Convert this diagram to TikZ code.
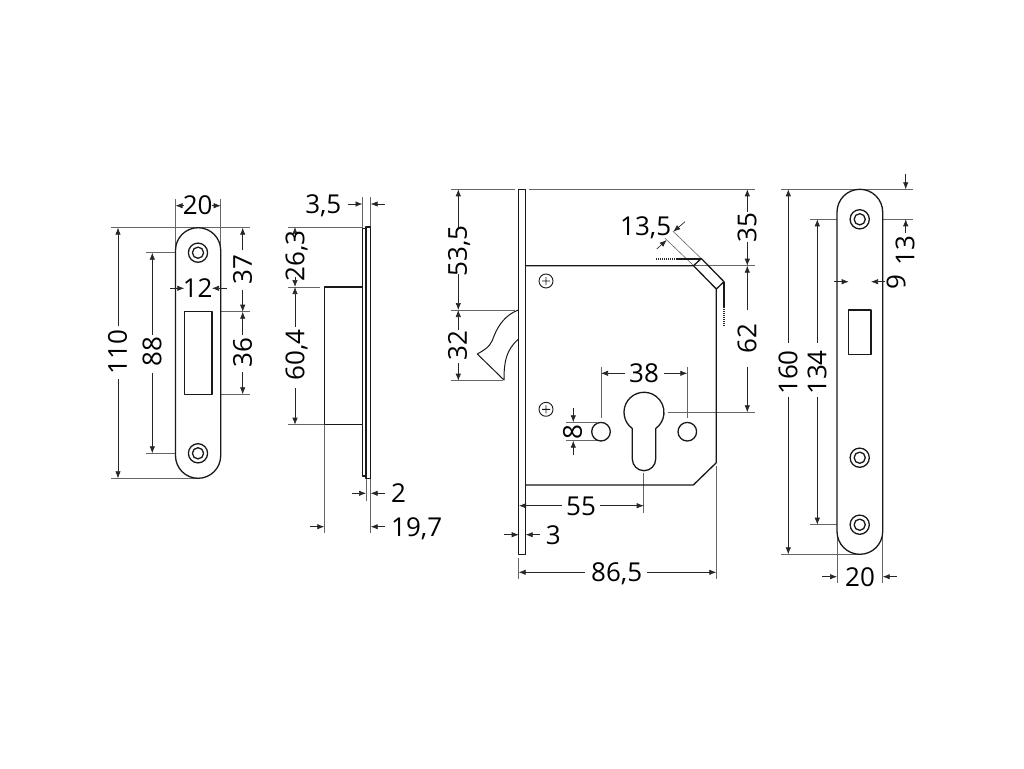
\documentclass[tikz,border=0pt]{standalone}
\usepackage{fontspec}
\setmainfont{Open Sans}
\usetikzlibrary{arrows.meta}
\tikzset{
  part/.style={draw=black!90,line width=1.3pt,line join=round},
  dimline/.style={draw=black!85,line width=0.65pt,-{Latex[length=7pt,width=5.4pt]}},
  extline/.style={draw=black!60,line width=0.7pt},
  label/.style={font=\fontsize{26}{26}\selectfont,inner sep=0pt,text=black,text height=18.6pt,text depth=0pt},
  vlabel/.style={label,rotate=90},
  dotline/.style={draw=black!85,line width=1.2pt,dash pattern=on 1pt off 1pt},
}
\begin{document}
\begin{tikzpicture}[x=1pt,y=-1pt]
\useasboundingbox[fill=white] (0,0) rectangle (1024,768);

% ---- left strike plate
\draw[extline] (175.5,199) -- (175.5,250);
\draw[extline] (220.7,199) -- (220.7,250);
\draw[extline] (111,227.7) -- (250,227.7);
\draw[extline] (111,478.3) -- (198,478.3);
\draw[extline] (146,252.7) -- (186,252.7);
\draw[extline] (146,453.3) -- (186,453.3);
\draw[extline] (184.3,280) -- (184.3,308);
\draw[extline] (212,280) -- (212,308);
\draw[extline] (216,311.7) -- (250,311.7);
\draw[extline] (216,394.3) -- (250,394.3);
\draw[part,fill=white] (198.1,227.7) arc[start angle=-90,end angle=0,radius=22.6] -- (220.7,455.7) arc[start angle=0,end angle=180,radius=22.6] -- (175.5,250.3) arc[start angle=180,end angle=270,radius=22.6] -- cycle;
\draw[part] (198,252.7) circle[radius=9.6] (198,252.7) circle[radius=5.6];
\draw[part] (198,453.3) circle[radius=9.6] (198,453.3) circle[radius=5.6];
\draw[part] (184.3,311.7) rectangle (212,394.3);
\draw[dimline] (184,205.7) -- (175.5,205.7);
\draw[dimline] (212,205.7) -- (220.7,205.7);
\node[label] (t20a) at (197.7,205.5) {20};
\draw[dimline] (118,325.7) -- (118,227.7);
\draw[dimline] (118,379) -- (118,478.3);
\node[vlabel] (t110) at (117.5,352) {110};
\draw[dimline] (152.3,335) -- (152.3,252.7);
\draw[dimline] (152.3,373) -- (152.3,453.3);
\node[vlabel] (t88) at (152,352) {88};
\draw[dimline] (170,288.3) -- (184.3,288.3);
\draw[dimline] (226.7,288.3) -- (212,288.3);
\node[label] (t12) at (197.7,288.3) {12};
\draw[dimline] (242.7,250) -- (242.7,227.7);
\draw[dimline] (242.7,290) -- (242.7,311.7);
\node[vlabel] (t37) at (242.5,270) {37};
\draw[dimline] (242.7,335) -- (242.7,311.7);
\draw[dimline] (242.7,372) -- (242.7,394.3);
\node[vlabel] (t36) at (242.5,353) {36};

% ---- side view
\draw[extline] (362.5,197) -- (362.5,227);
\draw[extline] (370.7,197) -- (370.7,227);
\draw[extline] (288,227) -- (362.5,227);
\draw[extline] (288,287) -- (320,287);
\draw[extline] (288,424.7) -- (324,424.7);
\draw[extline] (366,478) -- (366,500.7);
\draw[extline] (370.7,478) -- (370.7,533);
\draw[extline] (324.3,425) -- (324.3,533);
\draw[part] (362.7,228.3) rectangle (366,476);
\draw[part] (366,227) rectangle (370.7,478.3);
\draw[part] (362.7,287) -- (324.3,287) -- (324.3,424.7) -- (362.7,424.7);
\draw[dimline] (347.7,204) -- (362.5,204);
\draw[dimline] (384.7,204) -- (370.7,204);
\node[label] (t35b) at (323.3,204.5) {3,5};
\draw[dimline] (295,237) -- (295,227);
\draw[dimline] (295,277) -- (295,287);
\node[vlabel] (t263) at (295,256) {26,3};
\draw[dimline] (295,326.7) -- (295,287);
\draw[dimline] (295,388) -- (295,424.7);
\node[vlabel] (t604) at (295,355) {60,4};
\draw[dimline] (351.7,493.3) -- (366,493.3);
\draw[dimline] (385,493.3) -- (370.7,493.3);
\node[label] (t2) at (398.5,493.3) {2};
\draw[dimline] (310,526.7) -- (324.3,526.7);
\draw[dimline] (385,526.7) -- (370.7,526.7);
\node[label] (t197) at (416.7,527) {19,7};

% ---- lock body
\draw[extline] (451,189.3) -- (515,189.3);
\draw[extline] (529.3,189.3) -- (755,189.3);
\draw[extline] (693,265.7) -- (755,265.7);
\draw[extline] (451,310) -- (515,310);
\draw[extline] (451,380.7) -- (503,380.7);
\draw[extline] (601,366.7) -- (601,417.7);
\draw[extline] (687.3,366.7) -- (687.3,418);
\draw[extline] (668,412.3) -- (755,412.3);
\draw[extline] (566,422.3) -- (596.7,422.3);
\draw[extline] (566,440.7) -- (596.7,440.7);
\draw[extline] (643.7,473.3) -- (643.7,512.7);
\draw[extline] (518.7,558.3) -- (518.7,579.3);
\draw[extline] (716.3,466) -- (716.3,579.3);
\draw[extline,line width=0.6pt] (701,258.3) -- (672.7,231);
\draw[extline,line width=0.6pt] (694,266) -- (665,238.3);
\draw[part] (518.7,189.3) rectangle (525.7,554.7);
\draw[part] (525.7,265.7) -- (693.5,265.7) -- (716.3,289) -- (716.3,462.7) -- (693.3,485) -- (525.7,485);
\draw[part] (693.5,265.7) -- (701.3,258.5) -- (724,281.7) -- (716.3,289);
\draw[part] (676.7,259) -- (701.3,259);
\draw[dotline] (656,259) -- (676.7,259);
\draw[part] (724,281.7) -- (724,307);
\draw[dotline] (724,307) -- (724,326.7);
% latch
\draw[part,line width=1pt] (518.3,310) .. controls (505,315) and (498,326) .. (494,336) .. controls (491,344) and (490,347) .. (477.3,354) -- (504,380) .. controls (504,362) and (506,350) .. (518.3,339.3);
% screws
\draw[part,line width=0.9pt] (546,281) circle[radius=7] (542,281) -- (550,281) (546,277) -- (546,285);
\draw[part,line width=0.9pt] (546,409.3) circle[radius=7] (542,409.3) -- (550,409.3) (546,405.3) -- (546,413.3);
% keyhole
\draw[part] (632.3,428.5) arc[start angle=125.8,end angle=414.2,radius=20] -- (655.7,459) arc[start angle=0,end angle=180,radius=11.7] -- cycle;
% holes
\draw[part] (601,431.7) circle[radius=9.3];
\draw[part] (687.3,431.7) circle[radius=9.3];
% lock dimensions
\draw[dimline] (458.3,226.7) -- (458.3,189.3);
\draw[dimline] (458.3,274.3) -- (458.3,310);
\node[vlabel] (t535) at (457.5,251) {53,5};
\draw[dimline] (458.3,330) -- (458.3,310);
\draw[dimline] (458.3,363) -- (458.3,380.7);
\node[vlabel] (t32) at (457.5,346) {32};
\draw[dimline] (747.3,211.7) -- (747.3,189.3);
\draw[dimline] (747.3,241.7) -- (747.3,265.7);
\node[vlabel] (t35) at (747,227.7) {35};
\draw[dimline] (747.3,310) -- (747.3,265.7);
\draw[dimline] (747.3,366.7) -- (747.3,412.3);
\node[vlabel] (t62) at (747,338.3) {62};
\draw[dimline] (625,373.3) -- (601,373.3);
\draw[dimline] (664,373.3) -- (687.3,373.3);
\node[label] (t38) at (644,373) {38};
\draw[dimline] (573.3,408.3) -- (573.3,422.3);
\draw[dimline] (573.3,455) -- (573.3,440.7);
\node[vlabel] (t8) at (572.5,431.7) {8};
\draw[dimline] (561.7,505.7) -- (519,505.7);
\draw[dimline] (600,505.7) -- (643.7,505.7);
\node[label] (t55) at (581,505.7) {55};
\draw[dimline] (504,534.7) -- (518.7,534.7);
\draw[dimline] (540,534.7) -- (525.7,534.7);
\node[label] (t3) at (553.3,534.7) {3};
\draw[dimline] (585,572.3) -- (518.7,572.3);
\draw[dimline] (646.7,572.3) -- (716.3,572.3);
\node[label] (t865) at (616.7,572.3) {86,5};
\draw[dimline] (685,221.7) -- (673.3,231.7);
\draw[dimline] (656.7,249) -- (666.7,240);
\node[label] (t135) at (645.7,225.7) {13,5};

% ---- right faceplate
\draw[extline] (781,189.3) -- (912.7,189.3);
\draw[extline] (810,219.3) -- (846.7,219.3);
\draw[extline] (872.7,219.3) -- (912.7,219.3);
\draw[extline] (781,554.3) -- (860,554.3);
\draw[extline] (810,524.7) -- (846.7,524.7);
\draw[extline] (848.7,274) -- (848.7,306);
\draw[extline] (871,274) -- (871,306);
\draw[extline] (837,530) -- (837,583.3);
\draw[extline] (882.7,530) -- (882.7,583.3);
\draw[part,fill=white] (859.85,189.3) arc[start angle=-90,end angle=0,radius=22.85] -- (882.7,531.45) arc[start angle=0,end angle=180,radius=22.85] -- (837,212.15) arc[start angle=180,end angle=270,radius=22.85] -- cycle;
\foreach \yy in {219.3,457.7,524.7}{
  \draw[part] (859.7,\yy) circle[radius=9.6] (859.7,\yy) circle[radius=5.6];
}
\draw[part] (848.7,310) rectangle (871,354.3);
\draw[dimline] (788.3,343) -- (788.3,189.3);
\draw[dimline] (788.3,396.7) -- (788.3,554.3);
\node[vlabel] (t160) at (788,372.5) {160};
\draw[dimline] (817.3,343) -- (817.3,219.3);
\draw[dimline] (817.3,396.7) -- (817.3,524.7);
\node[vlabel] (t134) at (817,372.5) {134};
\draw[dimline] (905.7,174) -- (905.7,189.3);
\draw[dimline] (905.7,233) -- (905.7,219.3);
\node[vlabel] (t13) at (905,251) {13};
\draw[dimline] (834.3,281.7) -- (848.7,281.7);
\draw[dimline] (885,281.7) -- (871,281.7);
\node[vlabel] (t9) at (896,281.7) {9};
\draw[dimline] (822.3,576.7) -- (837,576.7);
\draw[dimline] (896.7,576.7) -- (882.7,576.7);
\node[label] (t20b) at (860,577) {20};
\end{tikzpicture}
\end{document}
